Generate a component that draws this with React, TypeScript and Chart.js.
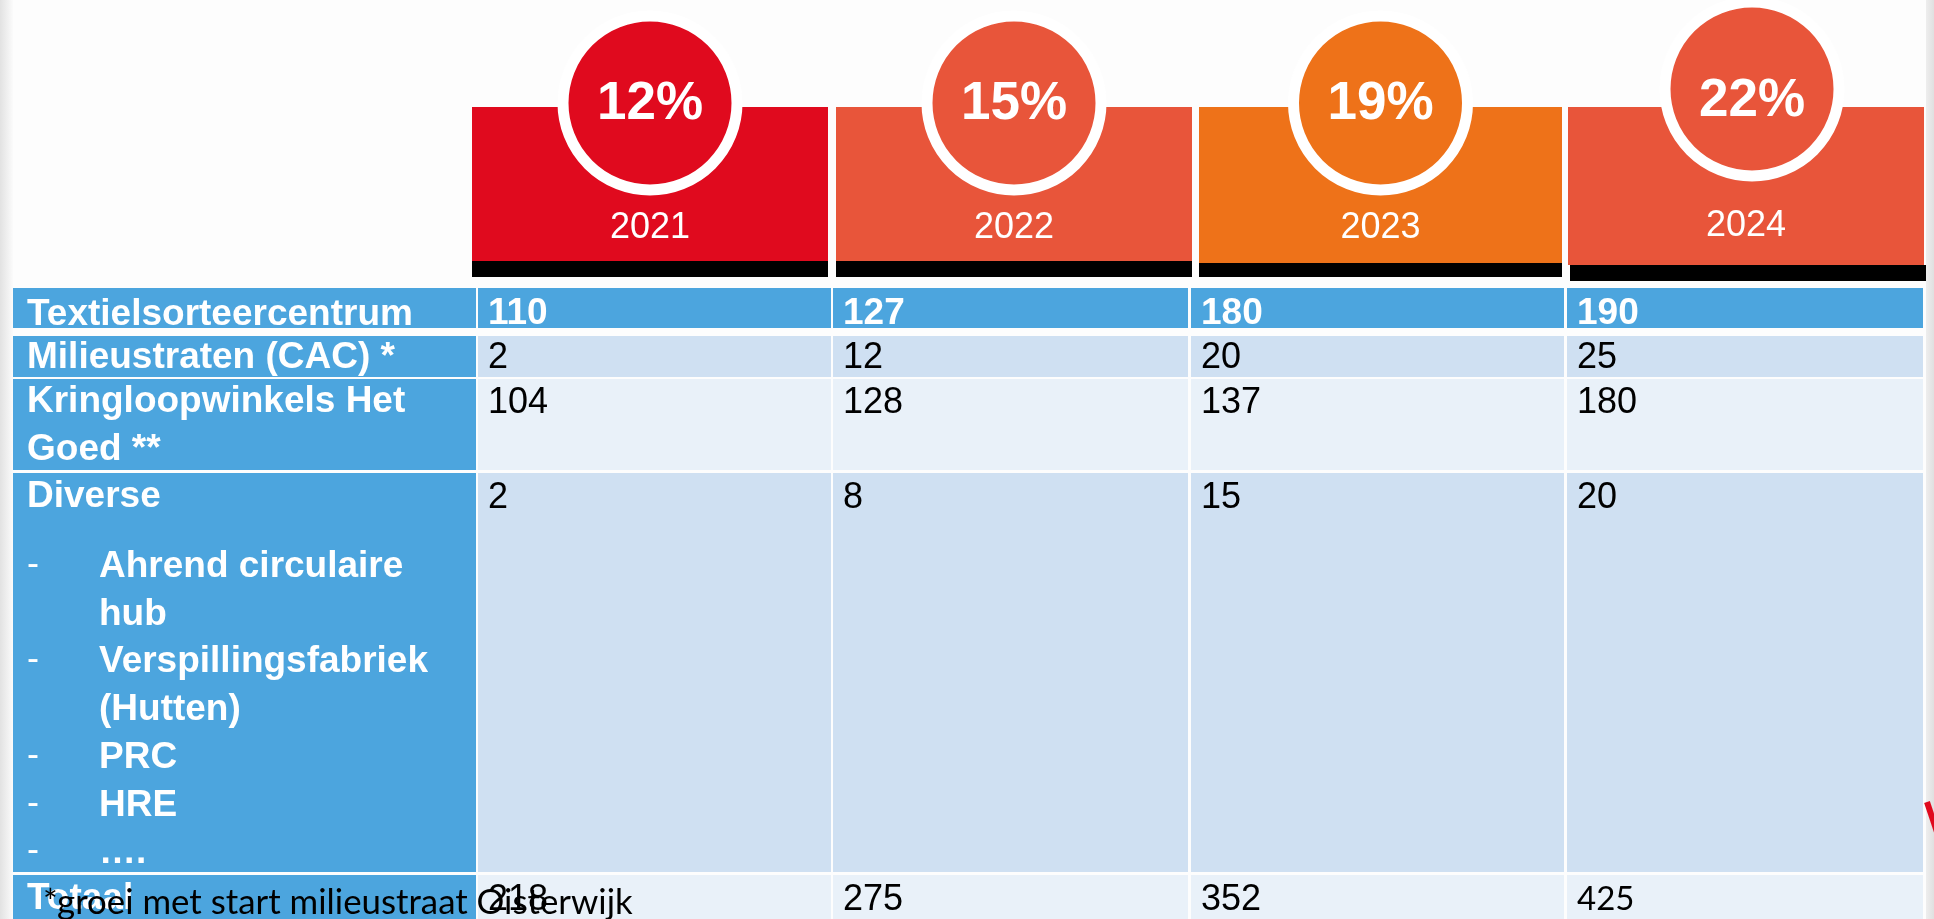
import { useEffect, useRef } from 'react';
import { Chart, registerables } from 'chart.js';

Chart.register(...registerables);

// ---------- data ----------
const years = ['2021', '2022', '2023', '2024'];
const growthPercent = [12, 15, 19, 22];
const rowLabels = ['Textielsorteercentrum', 'Milieustraten (CAC) *', 'Kringloopwinkels Het Goed **', 'Diverse', 'Totaal'];
const textielsorteercentrum = [110, 127, 180, 190];
const milieustraten = [2, 12, 20, 25];
const kringloopwinkels = [104, 128, 137, 180];
const diverse = [2, 8, 15, 20];
const totaal = [218, 275, 352, 425];
const diverseItems = ['Ahrend circulaire hub', 'Verspillingsfabriek (Hutten)', 'PRC', 'HRE', '….'];
const footnote = '*groei met start milieustraat Oisterwijk';

const tableValues = [textielsorteercentrum, milieustraten, kringloopwinkels, diverse, totaal];

// ---------- layout (slide units) ----------
const SLIDE_W = 1934;
const SLIDE_H = 919;
const headerCols = [[472, 828], [836, 1192], [1199, 1562], [1568, 1924]];
const headerTop = 107;
const headerBarTop = [261, 261, 263, 265];
const headerBarBottom = [277, 277, 277, 281];
const circleOffsetX = [0, 0, 0, 6];
const circleY = [103, 103, 103, 89];
const pctTextY = [104, 104, 104, 101];
const yearTextY = [228, 228, 228, 226];
const tableCols = [[13, 476], [478, 831], [833, 1188], [1191, 1564], [1567, 1923]];
const tableRows = [[288, 328], [336, 377], [379, 470], [473, 872], [875, 930]];
const labelBaseline = [325, 368, 412, 507, 909];
const valueBaseline = [324, 368, 413, 508, 910];
const itemsFirstBaseline = 577;
const lineStep = 48;
const itemLineStep = 47.7;
const valuePadX = 10;
const labelPadRight = 12;
const labelTextX = 27;
const dashX = 27;
const itemTextX = 99;
const footnoteX = 43;
const footnoteBaseline = 914;
const footnoteWidth = 590;

// ---------- styles ----------
const headerColors = ['#E00A1E', '#E8553A', '#EE7219', '#E8553A'];
const labelFill = '#4CA5DE';
const valueFills = ['#4CA5DE', '#CFE0F2', '#E9F1F9', '#CFE0F2', '#E9F1F9'];
const ARIAL = '"Liberation Sans", Arial, sans-serif';
const CALIBRI = 'Lato, "Open Sans", sans-serif';
const totalFonts = [ARIAL, ARIAL, ARIAL, CALIBRI];
const LABEL_FONT = `bold 37px ${ARIAL}`;

const slidePlugin = {
  id: 'slideTable',
  beforeDatasetsDraw(chart: any) {
    const { ctx } = chart;
    const xs = chart.scales.x;
    const ys = chart.scales.y;
    const px = (v: number) => xs.getPixelForValue(v);
    const py = (v: number) => ys.getPixelForValue(v);
    const rect = (x0: number, y0: number, x1: number, y1: number, fill: any) => {
      ctx.fillStyle = fill;
      ctx.fillRect(px(x0), py(y0), px(x1) - px(x0), py(y1) - py(y0));
    };
    ctx.save();
    // background
    rect(0, 0, SLIDE_W, SLIDE_H, '#fdfdfd');
    const gl = ctx.createLinearGradient(px(0), 0, px(13), 0);
    gl.addColorStop(0, '#e2e2e2');
    gl.addColorStop(1, '#fbfbfb');
    rect(0, 0, 13, SLIDE_H, gl);
    const gr = ctx.createLinearGradient(px(1926), 0, px(SLIDE_W), 0);
    gr.addColorStop(0, '#eeeeee');
    gr.addColorStop(1, '#e0e0e0');
    rect(1926, 0, SLIDE_W, SLIDE_H, gr);
    // small red diagonal stroke at the right edge
    ctx.strokeStyle = '#E00A1E';
    ctx.lineWidth = 6;
    ctx.beginPath();
    ctx.moveTo(px(1927), py(802));
    ctx.lineTo(px(1937), py(832));
    ctx.stroke();

    // header blocks
    years.forEach((yr, i) => {
      const [a, b] = headerCols[i];
      rect(a, headerTop, b, headerBarTop[i], headerColors[i]);
      rect(a + (i === 3 ? 2 : 0), headerBarTop[i], b + (i === 3 ? 2 : 0), headerBarBottom[i], '#000000');
      ctx.fillStyle = '#ffffff';
      ctx.font = `36px ${ARIAL}`;
      ctx.textAlign = 'center';
      ctx.textBaseline = 'middle';
      ctx.fillText(yr, px((a + b) / 2), py(yearTextY[i]));
    });

    // table cells
    tableRows.forEach(([t, btm], r) => {
      tableCols.forEach(([l, rt], c) => {
        rect(l, t, rt, btm, c === 0 ? labelFill : valueFills[r]);
      });
    });

    // label texts
    ctx.textAlign = 'left';
    ctx.textBaseline = 'alphabetic';
    const wrap = (text: string, maxW: number) => {
      const words = text.split(' ');
      const lines: string[] = [];
      let cur = '';
      words.forEach((w) => {
        const test = cur ? cur + ' ' + w : w;
        if (cur && ctx.measureText(test).width > maxW) {
          lines.push(cur);
          cur = w;
        } else cur = test;
      });
      if (cur) lines.push(cur);
      return lines;
    };
    const labelRight = tableCols[0][1];
    rowLabels.forEach((lab, r) => {
      ctx.font = LABEL_FONT;
      ctx.fillStyle = '#ffffff';
      const lines = wrap(lab, labelRight - labelTextX - labelPadRight);
      lines.forEach((ln, k) => ctx.fillText(ln, px(labelTextX), py(labelBaseline[r] + k * lineStep)));
    });
    // diverse sub-items
    let line = 0;
    diverseItems.forEach((item) => {
      ctx.font = `36px ${ARIAL}`;
      ctx.fillStyle = '#ffffff';
      ctx.fillText('-', px(dashX), py(itemsFirstBaseline + line * itemLineStep - 2));
      ctx.font = LABEL_FONT;
      const lines = wrap(item, labelRight - itemTextX - labelPadRight);
      lines.forEach((ln) => {
        ctx.fillText(ln, px(itemTextX), py(itemsFirstBaseline + line * itemLineStep));
        line += 1;
      });
    });

    // values
    tableValues.forEach((vals, r) => {
      vals.forEach((v, c) => {
        const [l] = tableCols[c + 1];
        if (r === 0) {
          ctx.font = `bold 37px ${ARIAL}`;
          ctx.fillStyle = '#ffffff';
        } else if (r === 4) {
          ctx.font = totalFonts[c] === CALIBRI ? `33px ${CALIBRI}` : `36px ${ARIAL}`;
          ctx.fillStyle = '#000000';
        } else {
          ctx.font = `36px ${ARIAL}`;
          ctx.fillStyle = '#000000';
        }
        ctx.fillText(String(v), px(l + valuePadX), py(valueBaseline[r]));
      });
    });
    ctx.restore();
  },
  afterDatasetsDraw(chart: any) {
    const { ctx } = chart;
    const xs = chart.scales.x;
    const ys = chart.scales.y;
    const px = (v: number) => xs.getPixelForValue(v);
    const py = (v: number) => ys.getPixelForValue(v);
    ctx.save();
    ctx.fillStyle = '#ffffff';
    ctx.font = `bold 53px ${ARIAL}`;
    ctx.textAlign = 'center';
    ctx.textBaseline = 'middle';
    growthPercent.forEach((p, i) => {
      const cx = (headerCols[i][0] + headerCols[i][1]) / 2 + circleOffsetX[i];
      ctx.fillText(`${p}%`, px(cx), py(pctTextY[i]));
    });
    // footnote
    ctx.font = `100px ${CALIBRI}`;
    const w100 = ctx.measureText(footnote).width;
    const size = (100 * footnoteWidth) / w100;
    ctx.font = `${size}px ${CALIBRI}`;
    ctx.fillStyle = '#000000';
    ctx.textAlign = 'left';
    ctx.textBaseline = 'alphabetic';
    ctx.fillText(footnote, px(footnoteX), py(footnoteBaseline));
    ctx.restore();
  },
};

export default function App() {
  const canvasRef = useRef<HTMLCanvasElement | null>(null);
  useEffect(() => {
    document.body.style.margin = '0';
    const canvas = canvasRef.current;
    if (!canvas) return;
    const chart = new Chart(canvas, {
      type: 'scatter',
      data: {
        datasets: [
          {
            label: 'groei',
            data: years.map((_, i) => ({
              x: (headerCols[i][0] + headerCols[i][1]) / 2 + circleOffsetX[i],
              y: circleY[i],
            })),
            pointRadius: 87,
            pointHoverRadius: 87,
            pointBorderWidth: 11,
            pointBackgroundColor: headerColors,
            pointBorderColor: '#ffffff',
            clip: false as any,
          } as any,
        ],
      },
      options: {
        animation: false,
        responsive: false,
        devicePixelRatio: 1,
        events: [],
        layout: { padding: 0, autoPadding: false } as any,
        plugins: { legend: { display: false }, tooltip: { enabled: false } },
        scales: {
          x: { type: 'linear', min: 0, max: SLIDE_W, display: false },
          y: { type: 'linear', min: 0, max: SLIDE_H, reverse: true, display: false },
        },
      },
      plugins: [slidePlugin],
    });
    return () => chart.destroy();
  }, []);
  return (
    <div style={{ width: SLIDE_W, height: SLIDE_H, overflow: 'hidden' }}>
      <canvas ref={canvasRef} width={SLIDE_W} height={SLIDE_H} style={{ display: 'block' }} />
    </div>
  );
}
